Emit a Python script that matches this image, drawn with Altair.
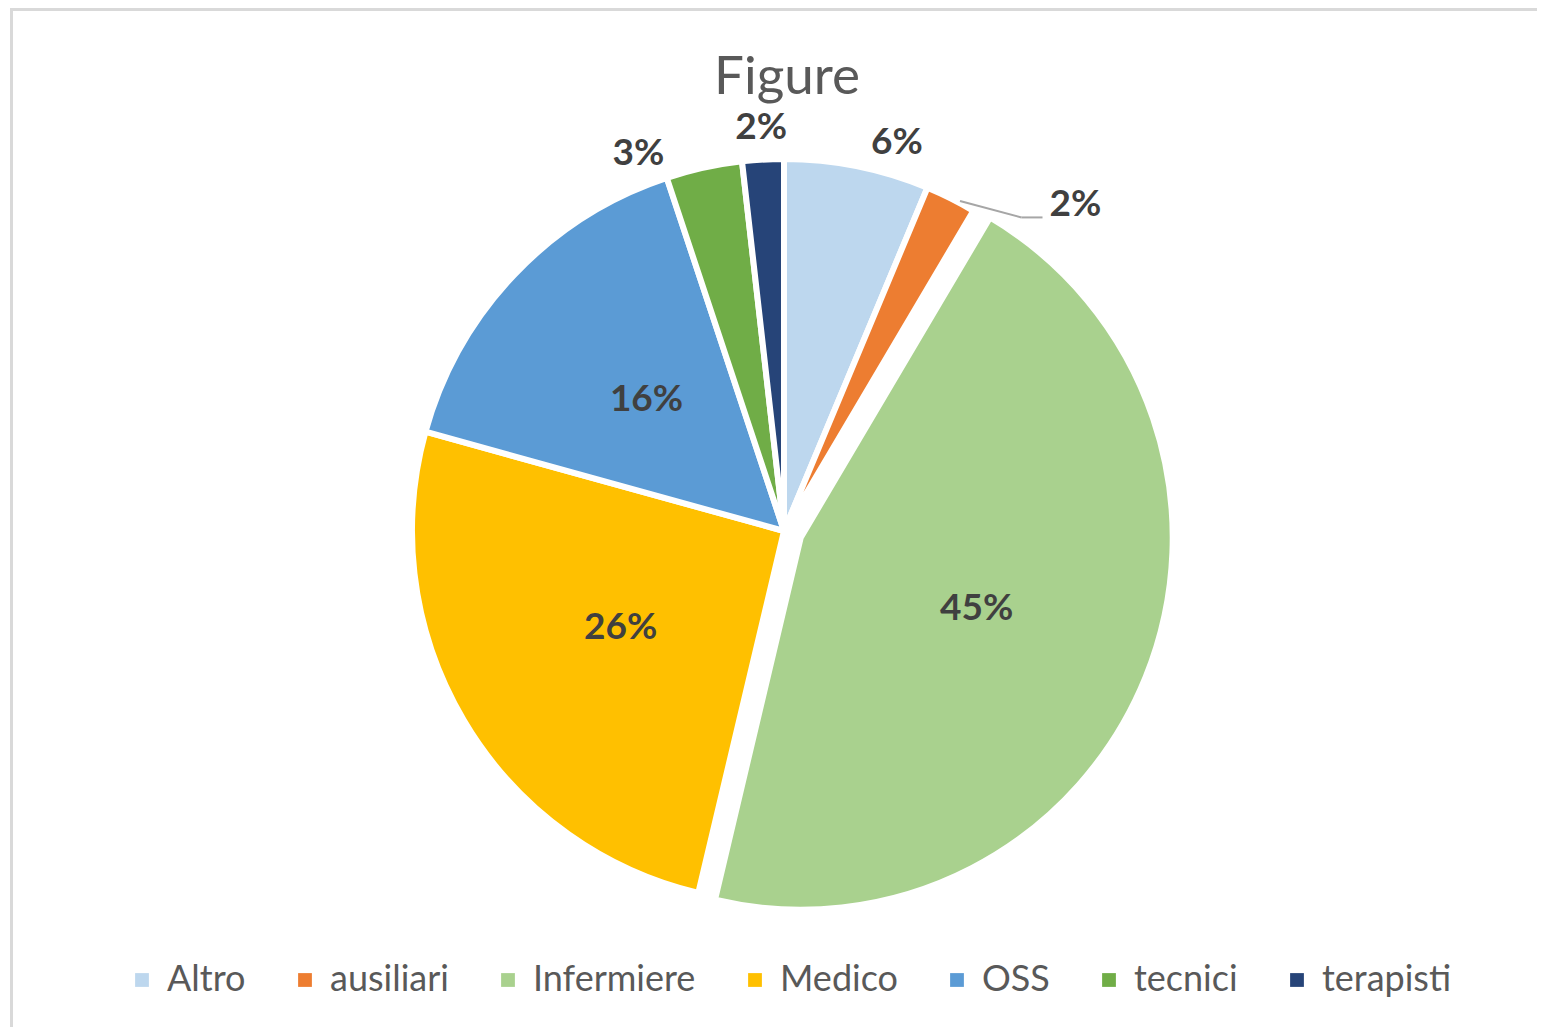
import altair as alt
import pandas as pd

# ---- data ----
CATS = ["Altro", "ausiliari", "Infermiere", "Medico", "OSS", "tecnici", "terapisti"]
VALUES = [6.3, 2.2, 45.2, 25.6, 15.6, 3.3, 1.8]
COLORS = ["#BDD7EE", "#ED7D31", "#A9D18E", "#FFC000", "#5B9BD5", "#70AD47", "#264478"]
TITLE = "Figure"

# ---- layout constants ----
W, H = 1529, 1019
CX, CY, R = 776, 523, 372
EXPLODE = "Infermiere"
EXP = 18
FONT = "Lato"

df = pd.DataFrame({"cat": CATS, "value": VALUES, "ord": list(range(len(CATS)))})

base = (
    alt.Chart(df)
    .transform_joinaggregate(total="sum(value)")
    .transform_window(cum="sum(value)", sort=[alt.SortField("ord")], frame=[None, 0])
    .transform_calculate(
        a0="2*PI*(datum.cum - datum.value)/datum.total",
        a1="2*PI*datum.cum/datum.total",
        pct="datum.value/datum.total",
    )
    .transform_calculate(mid="(datum.a0 + datum.a1)/2")
    .transform_calculate(ex=f"datum.cat == '{EXPLODE}' ? {EXP} : 0")
    .transform_calculate(
        cx=f"{CX} + datum.ex*sin(datum.mid)",
        cy=f"{CY} - datum.ex*cos(datum.mid)",
        # label placement: inside for large slices, outside for small ones
        lr=f"datum.pct >= 0.1 ? {0.51 * R} : (datum.cat == 'ausiliari' ? {R + 65} : {R + 32})",
        la=("datum.mid + PI/180*(datum.cat == 'Altro' ? 4.9 : datum.cat == 'ausiliari' ? 15.2 : "
            "datum.cat == 'tecnici' ? -8.7 : 0)"),
    )
    .transform_calculate(
        lx="datum.cx + datum.lr*sin(datum.la)",
        ly="datum.cy - datum.lr*cos(datum.la)",
    )
)

color = alt.Color(
    "cat:N",
    scale=alt.Scale(domain=CATS, range=COLORS),
    sort=CATS,
    legend=alt.Legend(
        title=None,
        orient="none",
        legendX=116,
        legendY=954,
        direction="horizontal",
        columns=7,
        symbolType="square",
        symbolSize=190,
        symbolStrokeWidth=0,
        labelFont=FONT,
        labelFontSize=36,
        labelColor="#595959",
        labelLimit=500,
        columnPadding=41,
        labelOffset=7,
        padding=0,
    ),
)

arcs = base.mark_arc(radius=R, stroke="white", strokeWidth=6).encode(
    theta=alt.Theta("a0:Q", scale=None),
    theta2="a1:Q",
    x=alt.X("cx:Q", scale=None, axis=None),
    y=alt.Y("cy:Q", scale=None, axis=None),
    color=color,
)

labels = base.mark_text(
    font=FONT, fontSize=37, fontWeight="bold", color="#404040", align="center", baseline="middle"
).encode(
    x=alt.X("lx:Q", scale=None, axis=None),
    y=alt.Y("ly:Q", scale=None, axis=None),
    text=alt.Text("pct:Q", format=".0%"),
)

leader_base = base.transform_filter("datum.cat == 'ausiliari'").transform_calculate(
    p0x=f"datum.cx + {R + 2}*sin(datum.mid + 0.025)",
    p0y=f"datum.cy - {R + 2}*cos(datum.mid + 0.025)",
    p1x="datum.lx - 54",
    p1y="datum.ly + 12",
    p2x="datum.lx - 33",
)
leader1 = leader_base.mark_rule(color="#A6A6A6", strokeWidth=2).encode(
    x=alt.X("p0x:Q", scale=None, axis=None),
    y=alt.Y("p0y:Q", scale=None, axis=None),
    x2="p1x:Q",
    y2="p1y:Q",
)
leader2 = leader_base.mark_rule(color="#A6A6A6", strokeWidth=2).encode(
    x=alt.X("p1x:Q", scale=None, axis=None),
    y=alt.Y("p1y:Q", scale=None, axis=None),
    x2="p2x:Q",
)

title = alt.Chart(pd.DataFrame({"t": [TITLE]})).mark_text(
    font=FONT, fontSize=53, color="#595959", align="center", baseline="middle"
).encode(text="t:N", x=alt.value(779), y=alt.value(70))

one = pd.DataFrame({"f": [0]})
frame_left = alt.Chart(one).mark_rule(color="#D9D9D9", strokeWidth=3).encode(
    x=alt.value(3.5), y=alt.value(0), y2=alt.value(H)
)
frame_top = alt.Chart(one).mark_rule(color="#D9D9D9", strokeWidth=3).encode(
    x=alt.value(2), x2=alt.value(W), y=alt.value(1.5)
)

chart = (
    alt.layer(frame_left, frame_top, arcs, leader1, leader2, labels, title)
    .properties(width=W, height=H, padding=0, autosize=alt.AutoSizeParams(type="none"))
    .configure_view(stroke=None)
)

chart.save("out.html", embed_options={"renderer": "svg", "actions": False})
